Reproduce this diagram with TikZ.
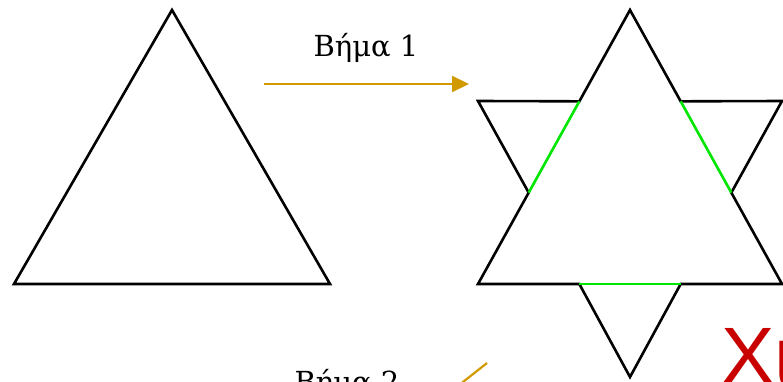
\documentclass[tikz,border=0pt]{standalone}
\usepackage{fontspec}
\newfontfamily\stepfont{DejaVu Serif}
\newfontfamily\titlefont{Liberation Sans}
\usepackage{xcolor}
\usetikzlibrary{
    arrows.meta,
    calc
}
\definecolor{stepgold}{RGB}{209,155,0}
\definecolor{thirdgreen}{RGB}{0,230,0}
\definecolor{titlered}{RGB}{200,0,0}
\tikzset{
    outline/.style={
        draw=black,
        line width=2.6pt,
        line join=miter
    },
    midthird/.style={
        draw=thirdgreen,
        line width=2.6pt
    },
    steparrow/.style={
        -{Triangle[length=17pt, width=16pt]},
        draw=stepgold,
        fill=stepgold,
        line width=2.2pt
    },
    steplabel/.style={
        font=\stepfont\fontsize{29}{33}\selectfont,
        anchor=base,
        inner sep=0pt
    },
    titletext/.style={
        font=\titlefont\fontsize{80}{90}\selectfont,
        text=titlered,
        anchor=base west,
        inner sep=0pt
    }
}

\begin{document}
\begin{tikzpicture}[x=1pt, y=-1pt]
\useasboundingbox (0,0) rectangle (783,382);
\clip (0,0) rectangle (783,382);

% first triangle
\coordinate (tritop) at (172,10);
\coordinate (trileft) at (14,284);
\coordinate (triright) at (330,284);
\draw[outline] (tritop) -- (trileft) -- (triright) -- cycle;

% step 1
\coordinate (onestart) at (264,84);
\coordinate (oneend) at (469,84);
\draw[steparrow] (onestart) -- (oneend);
\node[steplabel] (onelabel) at (366,57) {Βήμα 1};

% star after step 1
\coordinate (startop) at (630,10);
\coordinate (starleft) at (478,284);
\coordinate (starright) at (782,284);
\coordinate (la) at ($(startop)!1/3!(starleft)$);
\coordinate (lb) at ($(startop)!2/3!(starleft)$);
\coordinate (ba) at ($(starleft)!1/3!(starright)$);
\coordinate (bb) at ($(starleft)!2/3!(starright)$);
\coordinate (ra) at ($(starright)!1/3!(startop)$);
\coordinate (rb) at ($(starright)!2/3!(startop)$);
\coordinate (outleft) at (478,101);
\coordinate (outright) at (782,101);
\coordinate (outbottom) at (630,377);
\draw[outline] (startop) -- (la) -- (outleft) -- (lb) -- (starleft) -- (ba)
    -- (outbottom) -- (bb) -- (starright) -- (ra) -- (outright) -- (rb) -- cycle;
\draw[midthird] (la) -- (lb);
\draw[midthird] (ba) -- (bb);
\draw[midthird] (ra) -- (rb);

% step 2
\coordinate (twostart) at (487,363);
\coordinate (twoend) at (415,420);
\draw[steparrow] (twostart) -- (twoend);
\node[steplabel] (twolabel) at (347,392) {Βήμα 2};

\node[titletext] (title) at (721,383) {Χι};
\end{tikzpicture}
\end{document}
